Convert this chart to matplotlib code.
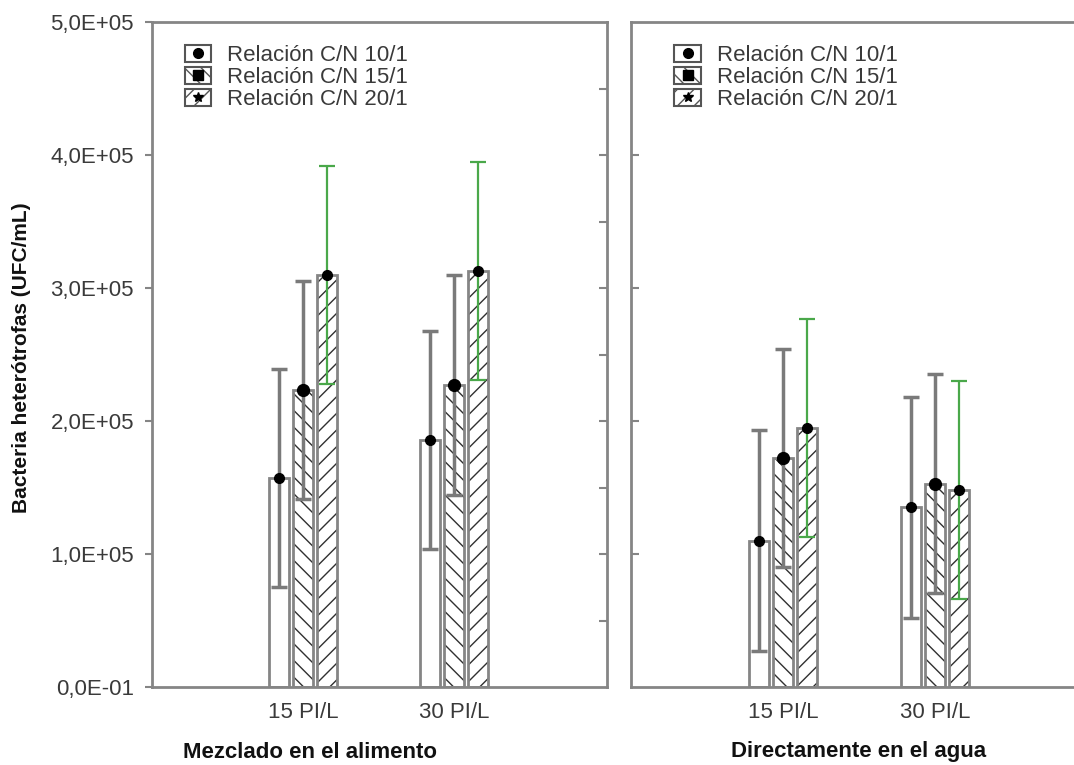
import numpy as np
import matplotlib
matplotlib.use('Agg')
import matplotlib.pyplot as plt
from matplotlib.patches import Patch
from matplotlib.lines import Line2D

plt.rcParams['font.family'] = ['Liberation Sans', 'DejaVu Sans']

groups  = ['15 PI/L', '30 PI/L']
series  = ['Relación C/N 10/1', 'Relación C/N 15/1', 'Relación C/N 20/1']

# mean and error (UFC/mL)
mezcla_mean = [[1.57e5, 1.86e5], [2.23e5, 2.27e5], [3.10e5, 3.13e5]]
mezcla_err  = [[0.82e5, 0.82e5], [0.82e5, 0.83e5], [0.82e5, 0.82e5]]
agua_mean   = [[1.10e5, 1.35e5], [1.72e5, 1.53e5], [1.95e5, 1.48e5]]
agua_err    = [[0.83e5, 0.83e5], [0.82e5, 0.82e5], [0.82e5, 0.82e5]]

yticks      = [0, 1e5, 2e5, 3e5, 4e5, 5e5]
ytick_lbls  = ['0,0E-01', '1,0E+05', '2,0E+05', '3,0E+05', '4,0E+05', '5,0E+05']

hatches     = ['', '\\\\', '//']
err_colors  = ['#7a7a7a', '#7a7a7a', '#4aa84a']
err_widths  = [2.5, 2.5, 1.6]
leg_markers = ['o', 's', '*']

edge  = '#858585'
txt   = '#3a3a3a'
W, H  = 1074, 765

fig = plt.figure(figsize=(W/100, H/100), dpi=100)
ax1 = fig.add_axes([152/W, 78/H, 455/W, 665/H])
ax2 = fig.add_axes([631/W, 78/H, 456/W, 665/H])

pos    = np.array([1, 2])
offs   = [-0.159, 0, 0.159]
bw     = 0.13

def draw(ax, means, errs):
    for i in range(3):
        x = pos + offs[i]
        # hatch layer then outline
        ax.bar(x, means[i], bw, color='white', edgecolor='#303030', hatch=hatches[i],
               linewidth=0, zorder=2)
        ax.bar(x, means[i], bw, fill=False, edgecolor=edge, linewidth=2, zorder=3)
        ax.errorbar(x, means[i], yerr=errs[i], fmt='none', ecolor=err_colors[i],
                    elinewidth=err_widths[i], capsize=5.5, capthick=err_widths[i], zorder=4)
        ax.plot(x, means[i], 'o', color='black', ms=7 if i != 1 else 8.5, zorder=5)
    ax.set_ylim(0, 5e5)
    ax.set_xticks(pos)
    ax.set_xticklabels(groups, fontsize=16, color=txt)
    ax.tick_params(axis='x', length=0, pad=11)
    for s in ax.spines.values():
        s.set_color(edge)
        s.set_linewidth(2)
    handles = [(Patch(facecolor='white', edgecolor='#555555', hatch=hatches[i], linewidth=1.5),
                Line2D([], [], marker=leg_markers[i], color='black', ls='', ms=7))
               for i in range(3)]
    return handles

def legend(ax, h, x0):
    ax.legend(h, series, loc='upper left', bbox_to_anchor=(x0, 0.966), borderaxespad=0,
              borderpad=0, frameon=False, fontsize=16, handlelength=1.2, handleheight=0.8,
              handletextpad=0.7, labelspacing=0.05, labelcolor=txt)

h = draw(ax1, mezcla_mean, mezcla_err)
ax1.set_xlim(0, 455/151)
ax1.set_yticks(yticks)
ax1.set_yticklabels(ytick_lbls, fontsize=16, color=txt)
ax1.tick_params(axis='y', direction='out', length=5, width=1.5, color=edge, pad=8)
sec = ax1.secondary_yaxis('right')
sec.set_yticks(np.arange(0.5e5, 5e5, 0.5e5))
sec.tick_params(direction='in', length=6, width=1.5, color=edge, labelright=False)
sec.spines['right'].set_visible(False)
legend(ax1, h, 0.072)

h = draw(ax2, agua_mean, agua_err)
ax2.set_xlim(0, 3.0)
ax2.set_yticks([1e5, 2e5, 3e5, 4e5])
ax2.tick_params(axis='y', direction='in', length=6, width=1.5, color=edge, labelleft=False)
legend(ax2, h, 0.095)

fig.text(22/W, 1 - 358/H, 'Bacteria heterótrofas (UFC/mL)', rotation=90, ha='center',
         va='center', fontsize=15, fontweight='bold', color='#111111')
fig.text(310/W, 1 - 752/H, 'Mezclado en el alimento', ha='center', va='center',
         fontsize=16, fontweight='bold', color='#111111')
fig.text(859/W, 1 - 752/H, 'Directamente en el agua', ha='center', va='center',
         fontsize=16, fontweight='bold', color='#111111')

fig.savefig('out.png', dpi=100)
